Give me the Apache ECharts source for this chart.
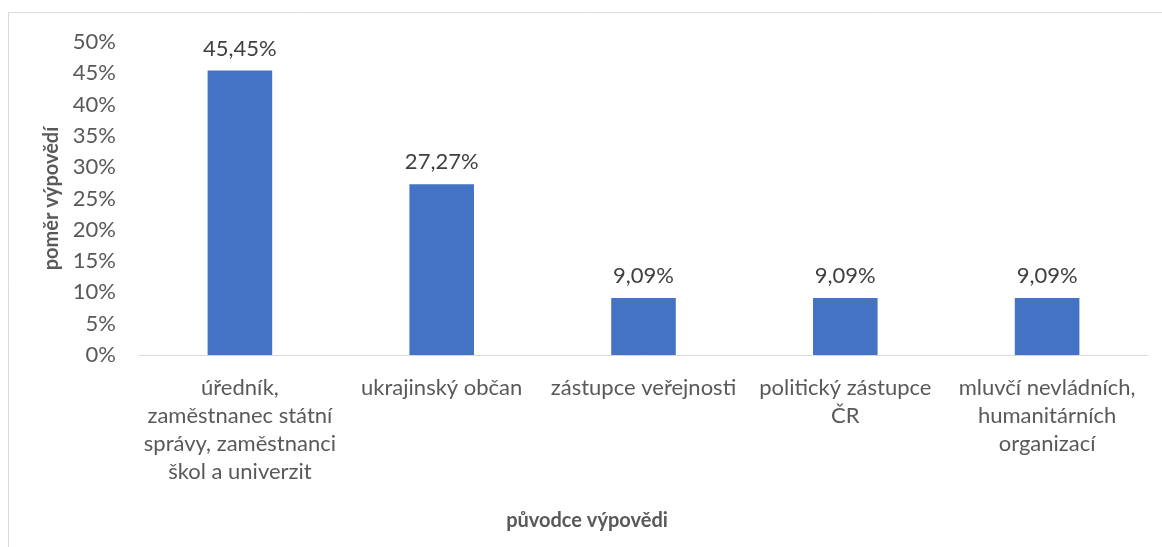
<!DOCTYPE html>
<html>
<head>
<meta charset="utf-8">
<script src="https://cdn.jsdelivr.net/npm/echarts@6/dist/echarts.min.js"></script>
<style>
  html, body { margin: 0; padding: 0; background: #fff; }
  #chart { width: 1162px; height: 547px; }
</style>
</head>
<body>
<div id="chart"></div>
<script>
// popisky kategorií (zalomení podle originálu)
const categories = [
  'úředník,\nzaměstnanec státní\nsprávy, zaměstnanci\nškol a univerzit',
  'ukrajinský občan',
  'zástupce veřejnosti',
  'politický zástupce\nČR',
  'mluvčí nevládních,\nhumanitárních\norganizací'
];
const shares = [45.45, 27.27, 9.09, 9.09, 9.09];
const yTicks = { min: 0, max: 50, step: 5 };

const FONT = 'Lato, "Open Sans", sans-serif';

const chart = echarts.init(document.getElementById('chart'));

chart.setOption({
  backgroundColor: '#fff',
  animation: false,
  grid: { left: 139, right: 14, top: 42, bottom: 192 },
  graphic: [
    {
      type: 'rect',
      shape: { x: 8.5, y: 12.5, width: 1300, height: 700 },
      style: { fill: 'none', stroke: '#d9d9d9', lineWidth: 1 },
      silent: true
    },
    {
      type: 'text',
      x: 587,
      y: 521,
      style: {
        text: 'původce výpovědi',
        fill: '#595959',
        font: 'bold 20px ' + FONT,
        textAlign: 'center',
        textVerticalAlign: 'middle'
      }
    }
  ],
  xAxis: {
    type: 'category',
    data: categories,
    axisLine: { lineStyle: { color: '#d9d9d9', width: 1 } },
    axisTick: { show: false },
    axisLabel: {
      interval: 0,
      margin: 19,
      color: '#595959',
      fontFamily: FONT,
      fontSize: 22,
      lineHeight: 28
    }
  },
  yAxis: {
    type: 'value',
    min: yTicks.min,
    max: yTicks.max,
    interval: yTicks.step,
    name: 'poměr výpovědí',
    nameLocation: 'middle',
    nameGap: 75,
    nameTextStyle: { color: '#595959', fontFamily: FONT, fontSize: 20, fontWeight: 'bold' },
    axisLine: { show: false },
    axisTick: { show: false },
    splitLine: { show: false },
    axisLabel: {
      margin: 23,
      color: '#595959',
      fontFamily: FONT,
      fontSize: 22,
      formatter: '{value}%'
    }
  },
  series: [
    {
      type: 'bar',
      data: shares,
      barWidth: '32%',
      itemStyle: { color: '#4472c4' },
      label: {
        show: true,
        position: 'top',
        distance: 11,
        color: '#404040',
        fontFamily: FONT,
        fontSize: 22,
        formatter: p => p.value.toFixed(2).replace('.', ',') + '%'
      }
    }
  ]
});
</script>
</body>
</html>
